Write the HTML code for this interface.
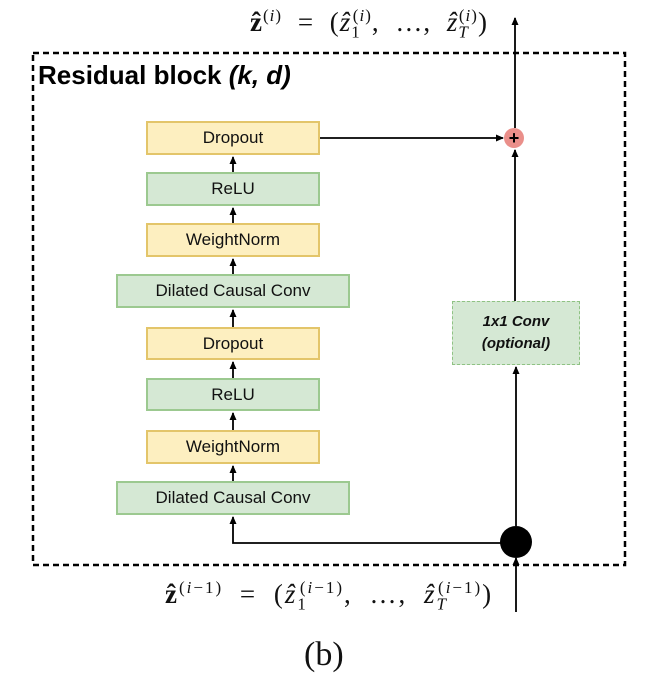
<!DOCTYPE html>
<html><head><style>
body{margin:0;background:#fff;width:662px;height:696px;overflow:hidden;position:relative;font-family:"Liberation Sans",sans-serif}
.b{position:absolute;box-sizing:border-box;display:flex;align-items:center;justify-content:center;font-size:17px;color:#111}
.y{background:#fdefc0;border:2px solid #e3c56a}
.g{background:#d5e8d4;border:2px solid #9cc990}
.m{position:absolute;font-family:"Liberation Serif",serif;font-size:27px;white-space:nowrap;color:#111;word-spacing:8px;letter-spacing:1px}
.m sub,.m sup{font-size:17px}
</style></head><body>
<svg width="662" height="696" style="position:absolute;left:0;top:0">
<defs><marker id="a" markerWidth="8" markerHeight="8" refX="7" refY="4" orient="auto" markerUnits="userSpaceOnUse"><path d="M0,0.5 L8,4 L0,7.5z" fill="#000"/></marker></defs>
<rect x="33" y="53" width="592" height="512" fill="none" stroke="#000" stroke-width="2.5" stroke-dasharray="6,4"/>
<g stroke="#000" stroke-width="1.8" fill="none">
<line x1="233" y1="172" x2="233" y2="157" marker-end="url(#a)"/>
<line x1="233" y1="223" x2="233" y2="208" marker-end="url(#a)"/>
<line x1="233" y1="274" x2="233" y2="259" marker-end="url(#a)"/>
<line x1="233" y1="327" x2="233" y2="310" marker-end="url(#a)"/>
<line x1="233" y1="378" x2="233" y2="362" marker-end="url(#a)"/>
<line x1="233" y1="430" x2="233" y2="413" marker-end="url(#a)"/>
<line x1="233" y1="481" x2="233" y2="466" marker-end="url(#a)"/>
<polyline points="516,543 233,543 233,517" marker-end="url(#a)"/>
<line x1="320" y1="138" x2="503" y2="138" marker-end="url(#a)"/>
<line x1="515" y1="301" x2="515" y2="150" marker-end="url(#a)"/>
<line x1="516" y1="526" x2="516" y2="367" marker-end="url(#a)"/>
<line x1="516" y1="612" x2="516" y2="558" marker-end="url(#a)"/>
<line x1="515" y1="128" x2="515" y2="18" marker-end="url(#a)"/>
</g>
<circle cx="514" cy="138" r="10" fill="#ea8f8a"/>
<text x="514" y="144" font-size="18" font-weight="bold" text-anchor="middle" font-family="Liberation Sans">+</text>
<circle cx="516" cy="542" r="16" fill="#000"/>
</svg>
<div style="position:absolute;left:38px;top:60px;font-size:26px;font-weight:bold">Residual block <i>(k, d)</i></div>
<div class="b y" style="left:146px;top:121px;width:174px;height:34px">Dropout</div>
<div class="b g" style="left:146px;top:172px;width:174px;height:34px">ReLU</div>
<div class="b y" style="left:146px;top:223px;width:174px;height:34px">WeightNorm</div>
<div class="b g" style="left:116px;top:274px;width:234px;height:34px">Dilated Causal Conv</div>
<div class="b y" style="left:146px;top:327px;width:174px;height:33px">Dropout</div>
<div class="b g" style="left:146px;top:378px;width:174px;height:33px">ReLU</div>
<div class="b y" style="left:146px;top:430px;width:174px;height:34px">WeightNorm</div>
<div class="b g" style="left:116px;top:481px;width:234px;height:34px">Dilated Causal Conv</div>
<div class="b" style="left:452px;top:301px;width:128px;height:64px;background:#d5e8d4;border:1.5px dashed #8fc283;font-style:italic;font-weight:bold;font-size:15px;text-align:center;line-height:22px">1x1 Conv<br>(optional)</div>
<div class="m" style="left:250px;top:6px"><b>ẑ</b><sup>(<i>i</i>)</sup> = (<i>ẑ</i><sub>1</sub><sup style="margin-left:-8px">(<i>i</i>)</sup>, …, <i>ẑ</i><sub><i>T</i></sub><sup style="margin-left:-10px">(<i>i</i>)</sup>)</div>
<div class="m" style="left:165px;top:578px;letter-spacing:2px"><b>ẑ</b><sup>(<i>i</i>−1)</sup> = (<i>ẑ</i><sub>1</sub><sup style="margin-left:-8px">(<i>i</i>−1)</sup>, …, <i>ẑ</i><sub><i>T</i></sub><sup style="margin-left:-10px">(<i>i</i>−1)</sup>)</div>
<div class="m" style="left:304px;top:636px;font-size:34px;letter-spacing:0">(b)</div>
</body></html>
